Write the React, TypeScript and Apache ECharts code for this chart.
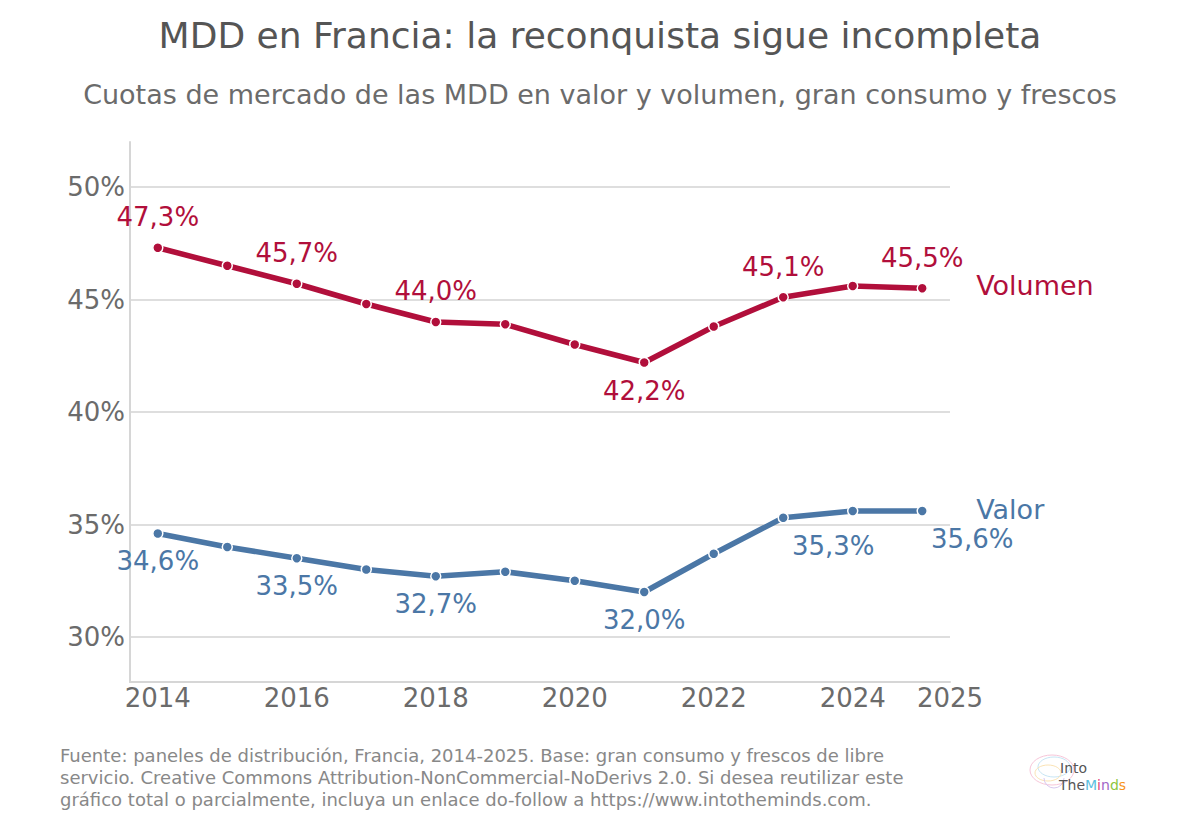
import React, { useEffect, useRef } from "react";
import * as echarts from "echarts";

const years = [2014, 2015, 2016, 2017, 2018, 2019, 2020, 2021, 2022, 2023, 2024, 2025];
const volumen = [47.3, 46.5, 45.7, 44.8, 44.0, 43.9, 43.0, 42.2, 43.8, 45.1, 45.6, 45.5];
const valor = [34.6, 34.0, 33.5, 33.0, 32.7, 32.9, 32.5, 32.0, 33.7, 35.3, 35.6, 35.6];
// which points carry a value label
const volumenLabeled = [2014, 2016, 2018, 2021, 2023, 2025];
const valorLabeled = [2014, 2016, 2018, 2021, 2023, 2025];
const xTicks = [2014, 2016, 2018, 2020, 2022, 2024, 2025.4];
const yTicks = [30, 35, 40, 45, 50];

const RED = "#b10f3b";
const BLUE = "#4b77a6";
const FONT = "DejaVu Sans";

const fmt = (v: number) => v.toFixed(1).replace(".", ",") + "%";

const App = () => {
  const ref = useRef<HTMLDivElement>(null);

  useEffect(() => {
    const chart = echarts.init(ref.current, null, { renderer: "svg" });

    const volData = years.map((y, i) => {
      const item: any = { value: [y, volumen[i]] };
      if (volumenLabeled.includes(y)) {
        const below = y === 2021;
        item.label = {
          show: true,
          position: below ? "bottom" : "top",
          distance: below ? 10 : 12,
        };
      }
      return item;
    });

    const valData = years.map((y, i) => {
      const item: any = { value: [y, valor[i]] };
      if (valorLabeled.includes(y)) {
        item.label = {
          show: true,
          position: "bottom",
          distance: 9,
          offset: y === 2023 || y === 2025 ? [50, 0] : [0, 0],
        };
      }
      return item;
    });

    const seriesBase = (name: string, color: string, data: any[], endOffset: number[]) => ({
      name,
      type: "line",
      data,
      symbol: "circle",
      symbolSize: 10,
      lineStyle: { color, width: 5.5 },
      itemStyle: { color, borderColor: "#fff", borderWidth: 1.5 },
      label: {
        show: false,
        color,
        fontFamily: FONT,
        fontSize: 26,
        formatter: (p: any) => fmt(p.value[1]),
      },
      endLabel: {
        show: true,
        formatter: "{a}",
        color,
        fontFamily: FONT,
        fontSize: 27,
        distance: 54,
        offset: endOffset,
      },
      emphasis: { disabled: true },
    });

    const logoText = { fontFamily: FONT, fontSize: 14, lineHeight: 14 };

    chart.setOption({
      animation: false,
      textStyle: { fontFamily: FONT },
      title: [
        {
          text: "MDD en Francia: la reconquista sigue incompleta",
          left: "center",
          top: 12,
          textStyle: { fontFamily: FONT, fontSize: 36, fontWeight: "normal", color: "#555" },
        },
        {
          text: "Cuotas de mercado de las MDD en valor y volumen, gran consumo y frescos",
          left: "center",
          top: 76,
          textStyle: { fontFamily: FONT, fontSize: 27, fontWeight: "normal", color: "#6b6b6b" },
        },
      ],
      grid: { left: 130, right: 250, top: 142, bottom: 146 },
      xAxis: {
        type: "value",
        min: 2013.6,
        max: 2025.4,
        axisLine: { show: true, lineStyle: { color: "#d6d6d6", width: 2 } },
        axisTick: { show: false, customValues: xTicks },
        splitLine: { show: false },
        axisLabel: {
          customValues: xTicks,
          formatter: (v: number) => String(Math.floor(v)),
          color: "#6b6b6b",
          fontFamily: FONT,
          fontSize: 26,
          margin: 3,
        },
      },
      yAxis: {
        type: "value",
        min: 28,
        max: 52,
        axisLine: { show: true, lineStyle: { color: "#d6d6d6", width: 2 } },
        axisTick: { show: false, customValues: yTicks },
        splitLine: { show: true, lineStyle: { color: "#dedede", width: 2 } },
        axisLabel: {
          customValues: yTicks,
          formatter: (v: number) => v + "%",
          color: "#6b6b6b",
          fontFamily: FONT,
          fontSize: 26,
          margin: 5,
        },
      },
      series: [
        seriesBase("Volumen", RED, volData, [0, -3]),
        seriesBase("Valor", BLUE, valData, [0, -2]),
      ],
      graphic: [
        {
          type: "text",
          left: 60,
          top: 744,
          style: {
            text:
              "Fuente: paneles de distribución, Francia, 2014-2025. Base: gran consumo y frescos de libre\n" +
              "servicio. Creative Commons Attribution-NonCommercial-NoDerivs 2.0. Si desea reutilizar este\n" +
              "gráfico total o parcialmente, incluya un enlace do-follow a https://www.intotheminds.com.",
            fontFamily: FONT,
            fontSize: 18,
            lineHeight: 22,
            fill: "#888",
          },
        },
        {
          type: "group",
          x: 1028,
          y: 750,
          children: [
            { type: "ellipse", shape: { cx: 24, cy: 20, rx: 22, ry: 15 }, style: { fill: "none", stroke: "#f7c6d9", lineWidth: 1 } },
            { type: "ellipse", shape: { cx: 26, cy: 17, rx: 16, ry: 10 }, style: { fill: "none", stroke: "#c8e6f5", lineWidth: 1 } },
            { type: "ellipse", shape: { cx: 20, cy: 23, rx: 13, ry: 8 }, style: { fill: "none", stroke: "#fbe3b5", lineWidth: 1 } },
            { type: "arc", shape: { cx: 26, cy: 28, r: 10, startAngle: 0, endAngle: Math.PI }, style: { fill: "none", stroke: "#d9c8ef", lineWidth: 1 } },
            { type: "text", x: 32, y: 11, style: { text: "Into", fill: "#555", ...logoText } },
            {
              type: "text",
              x: 31,
              y: 28,
              style: {
                text: "{a|The}{b|M}{c|i}{d|n}{e|d}{f|s}",
                ...logoText,
                rich: {
                  a: { fill: "#555", ...logoText },
                  b: { fill: "#5bc0de", ...logoText },
                  c: { fill: "#e0457b", ...logoText },
                  d: { fill: "#a066c8", ...logoText },
                  e: { fill: "#8cc63f", ...logoText },
                  f: { fill: "#f7941d", ...logoText },
                },
              },
            },
          ],
        },
      ],
    });

    return () => {
      chart.dispose();
    };
  }, []);

  return (
    <div
      ref={ref}
      style={{ position: "fixed", left: 0, top: 0, width: 1200, height: 828, background: "#fff" }}
    ></div>
  );
};

export default App;
